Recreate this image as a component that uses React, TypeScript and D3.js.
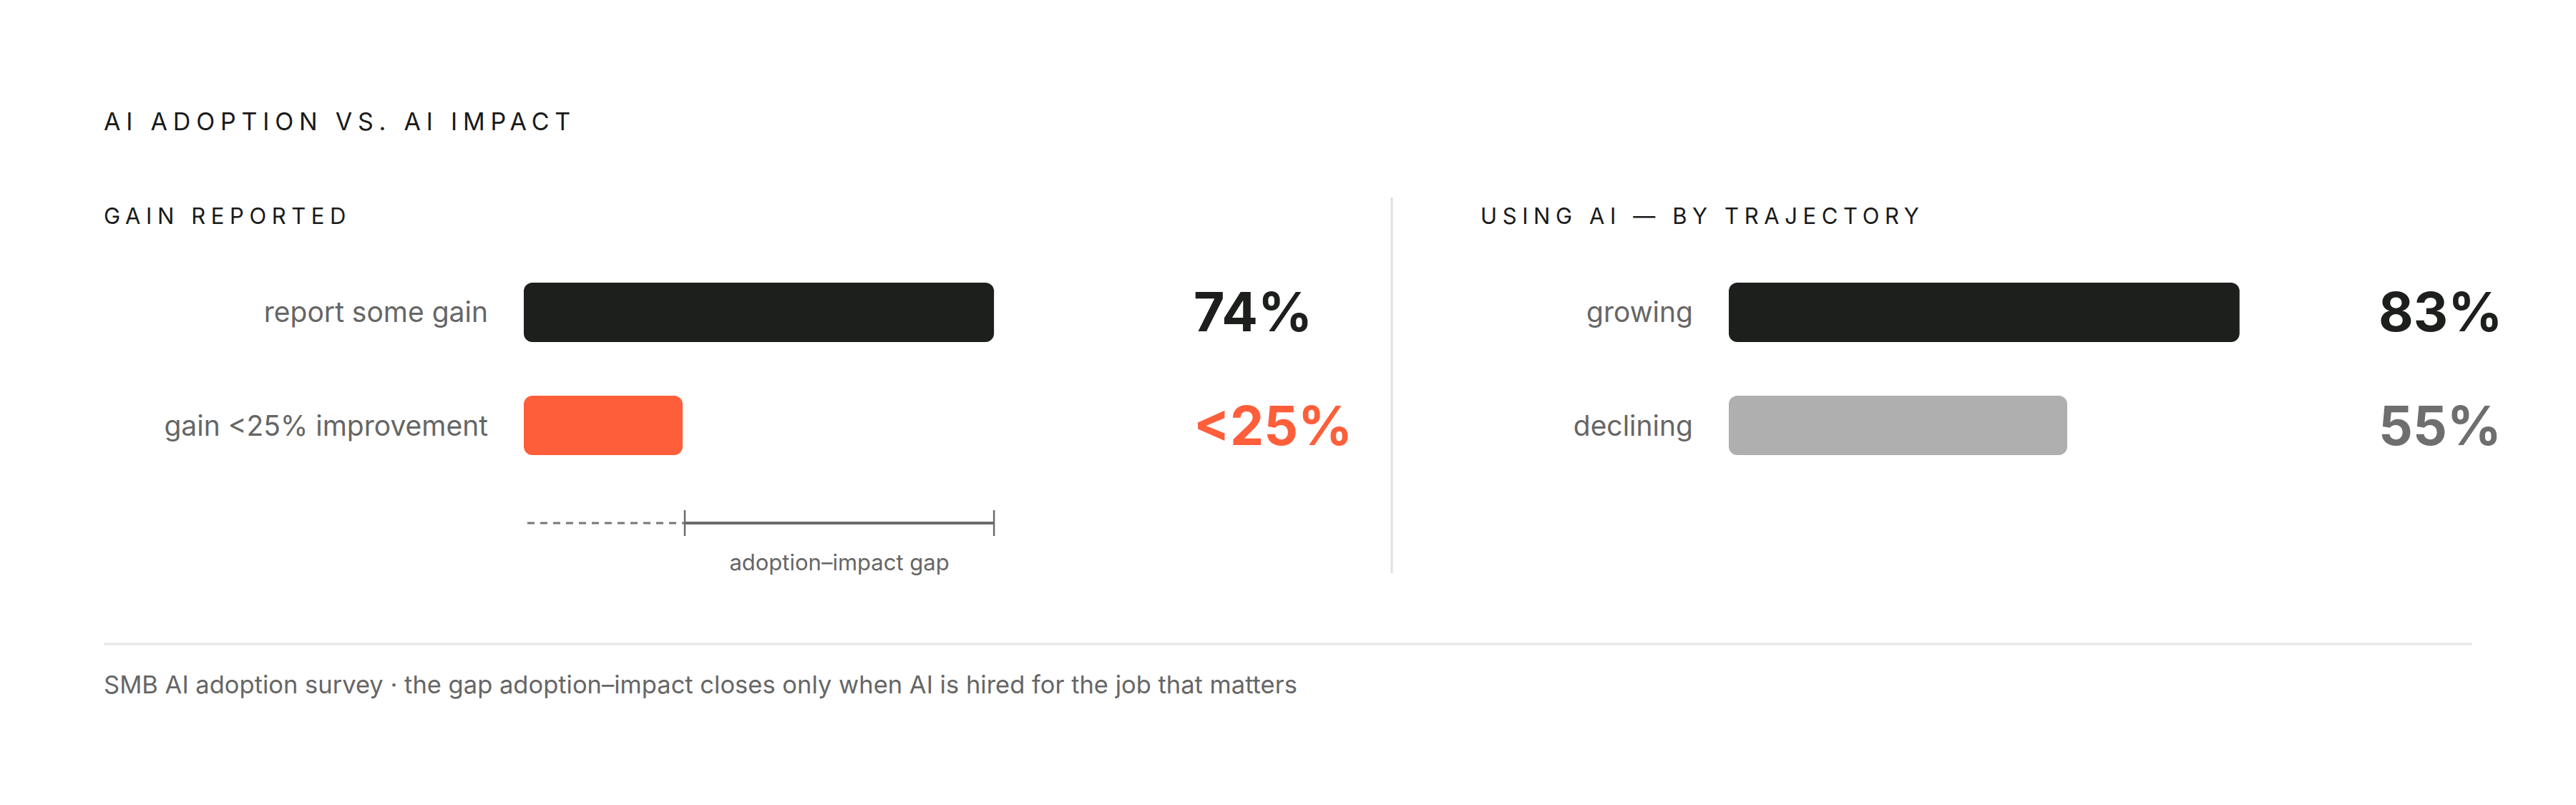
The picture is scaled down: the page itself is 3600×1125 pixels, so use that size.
import { useEffect, useRef } from "react"
import * as d3 from "d3"

// chart data
const gainLabels = ["report some gain", "gain <25% improvement"]
const gainValues = [74, 25]
const gainValueText = ["74%", "<25%"]

const trajectoryLabels = ["growing", "declining"]
const trajectoryValues = [83, 55]
const trajectoryValueText = ["83%", "55%"]

const title = "AI ADOPTION VS. AI IMPACT"
const gainHeader = "GAIN REPORTED"
const trajectoryHeader = "USING AI — BY TRAJECTORY"
const gapLabel = "adoption–impact gap"
const footnote =
  "SMB AI adoption survey · the gap adoption–impact closes only when AI is hired for the job that matters"

const W = 3600
const H = 1125
const FONT = "Inter, 'Noto Sans', sans-serif"
const INK = "#1c1f1c"
const ORANGE = "#ff5e3a"
const MUTED = "#666666"

interface PanelProps {
  header: string
  headerX: number
  labels: string[]
  values: number[]
  texts: string[]
  barColors: string[]
  textColors: string[]
  range: [number, number]
}

const drawPanel = (svg: any, p: PanelProps) => {
  const x = d3.scaleLinear().domain([0, 100]).range(p.range)
  const y = d3
    .scaleBand()
    .domain(p.labels)
    .range([395, 636])
    .paddingInner(0.475)
    .paddingOuter(0)

  svg
    .append("text")
    .attr("x", p.headerX)
    .attr("y", 313)
    .attr("font-size", 31)
    .attr("letter-spacing", 7.6)
    .attr("fill", "#1a1a1a")
    .text(p.header)

  const rows = svg
    .append("g")
    .selectAll("g")
    .data(p.labels)
    .join("g")
    .attr("transform", (d: string) => `translate(0,${y(d)})`)

  rows
    .append("rect")
    .attr("x", x(0))
    .attr("width", (_: string, i: number) => x(p.values[i]) - x(0))
    .attr("height", y.bandwidth())
    .attr("rx", 12)
    .attr("fill", (_: string, i: number) => p.barColors[i])

  rows
    .append("text")
    .attr("x", x(0) - 50)
    .attr("y", y.bandwidth() / 2 + 14)
    .attr("text-anchor", "end")
    .attr("font-size", 39)
    .attr("fill", MUTED)
    .text((d: string) => d)

  rows
    .append("text")
    .attr("x", x(100) + 48)
    .attr("y", y.bandwidth() / 2 + 27)
    .attr("font-size", 75)
    .attr("font-weight", 700)
    .attr("fill", (_: string, i: number) => p.textColors[i])
    .text((_: string, i: number) => p.texts[i])

  return x
}

const App = () => {
  const ref = useRef(null)

  useEffect(() => {
    if (!ref.current) return
    const svg = d3.select(ref.current)
    svg.selectAll("*").remove()
    svg.attr("font-family", FONT)

    svg
      .append("text")
      .attr("x", 145)
      .attr("y", 182)
      .attr("font-size", 34)
      .attr("letter-spacing", 7.8)
      .attr("fill", "#1a1a1a")
      .text(title)

    const xGain = drawPanel(svg, {
      header: gainHeader,
      headerX: 145,
      labels: gainLabels,
      values: gainValues,
      texts: gainValueText,
      barColors: [INK, ORANGE],
      textColors: [INK, ORANGE],
      range: [732, 1620],
    })

    drawPanel(svg, {
      header: trajectoryHeader,
      headerX: 2069,
      labels: trajectoryLabels,
      values: trajectoryValues,
      texts: trajectoryValueText,
      barColors: [INK, "#aeafae"],
      textColors: [INK, "#6e6e6e"],
      range: [2416, 3276],
    })

    // divider between panels
    svg
      .append("line")
      .attr("x1", 1945)
      .attr("x2", 1945)
      .attr("y1", 276)
      .attr("y2", 801)
      .attr("stroke", "#e0e0e0")
      .attr("stroke-width", 3)

    // adoption-impact gap bracket
    const gapY = 731
    const lo = xGain(gainValues[1]) + 3
    const hi = xGain(gainValues[0])
    const gap = svg.append("g")
    gap
      .append("line")
      .attr("x1", xGain(0) + 5)
      .attr("x2", lo)
      .attr("y1", gapY)
      .attr("y2", gapY)
      .attr("stroke", "#777")
      .attr("stroke-width", 3)
      .attr("stroke-dasharray", "10,8")
    gap
      .append("line")
      .attr("x1", lo)
      .attr("x2", hi)
      .attr("y1", gapY)
      .attr("y2", gapY)
      .attr("stroke", "#6b6b6b")
      .attr("stroke-width", 4)
    gap
      .selectAll("line.tick")
      .data([lo, hi])
      .join("line")
      .attr("class", "tick")
      .attr("x1", (d: number) => d)
      .attr("x2", (d: number) => d)
      .attr("y1", gapY - 18)
      .attr("y2", gapY + 18)
      .attr("stroke", "#6b6b6b")
      .attr("stroke-width", 2.5)
    gap
      .append("text")
      .attr("x", (lo + hi) / 2)
      .attr("y", 797)
      .attr("text-anchor", "middle")
      .attr("font-size", 31)
      .attr("fill", MUTED)
      .text(gapLabel)

    // footer
    svg
      .append("line")
      .attr("x1", 145)
      .attr("x2", 3455)
      .attr("y1", 900)
      .attr("y2", 900)
      .attr("stroke", "#e6e6e6")
      .attr("stroke-width", 3)
    svg
      .append("text")
      .attr("x", 145)
      .attr("y", 969)
      .attr("font-size", 34.5)
      .attr("fill", MUTED)
      .text(footnote)
  }, [])

  return (
    <svg
      ref={ref}
      width={W}
      height={H}
      viewBox={`0 0 ${W} ${H}`}
      style={{ position: "absolute", left: 0, top: 0, background: "#fff" }}
    />
  )
}

export default App
